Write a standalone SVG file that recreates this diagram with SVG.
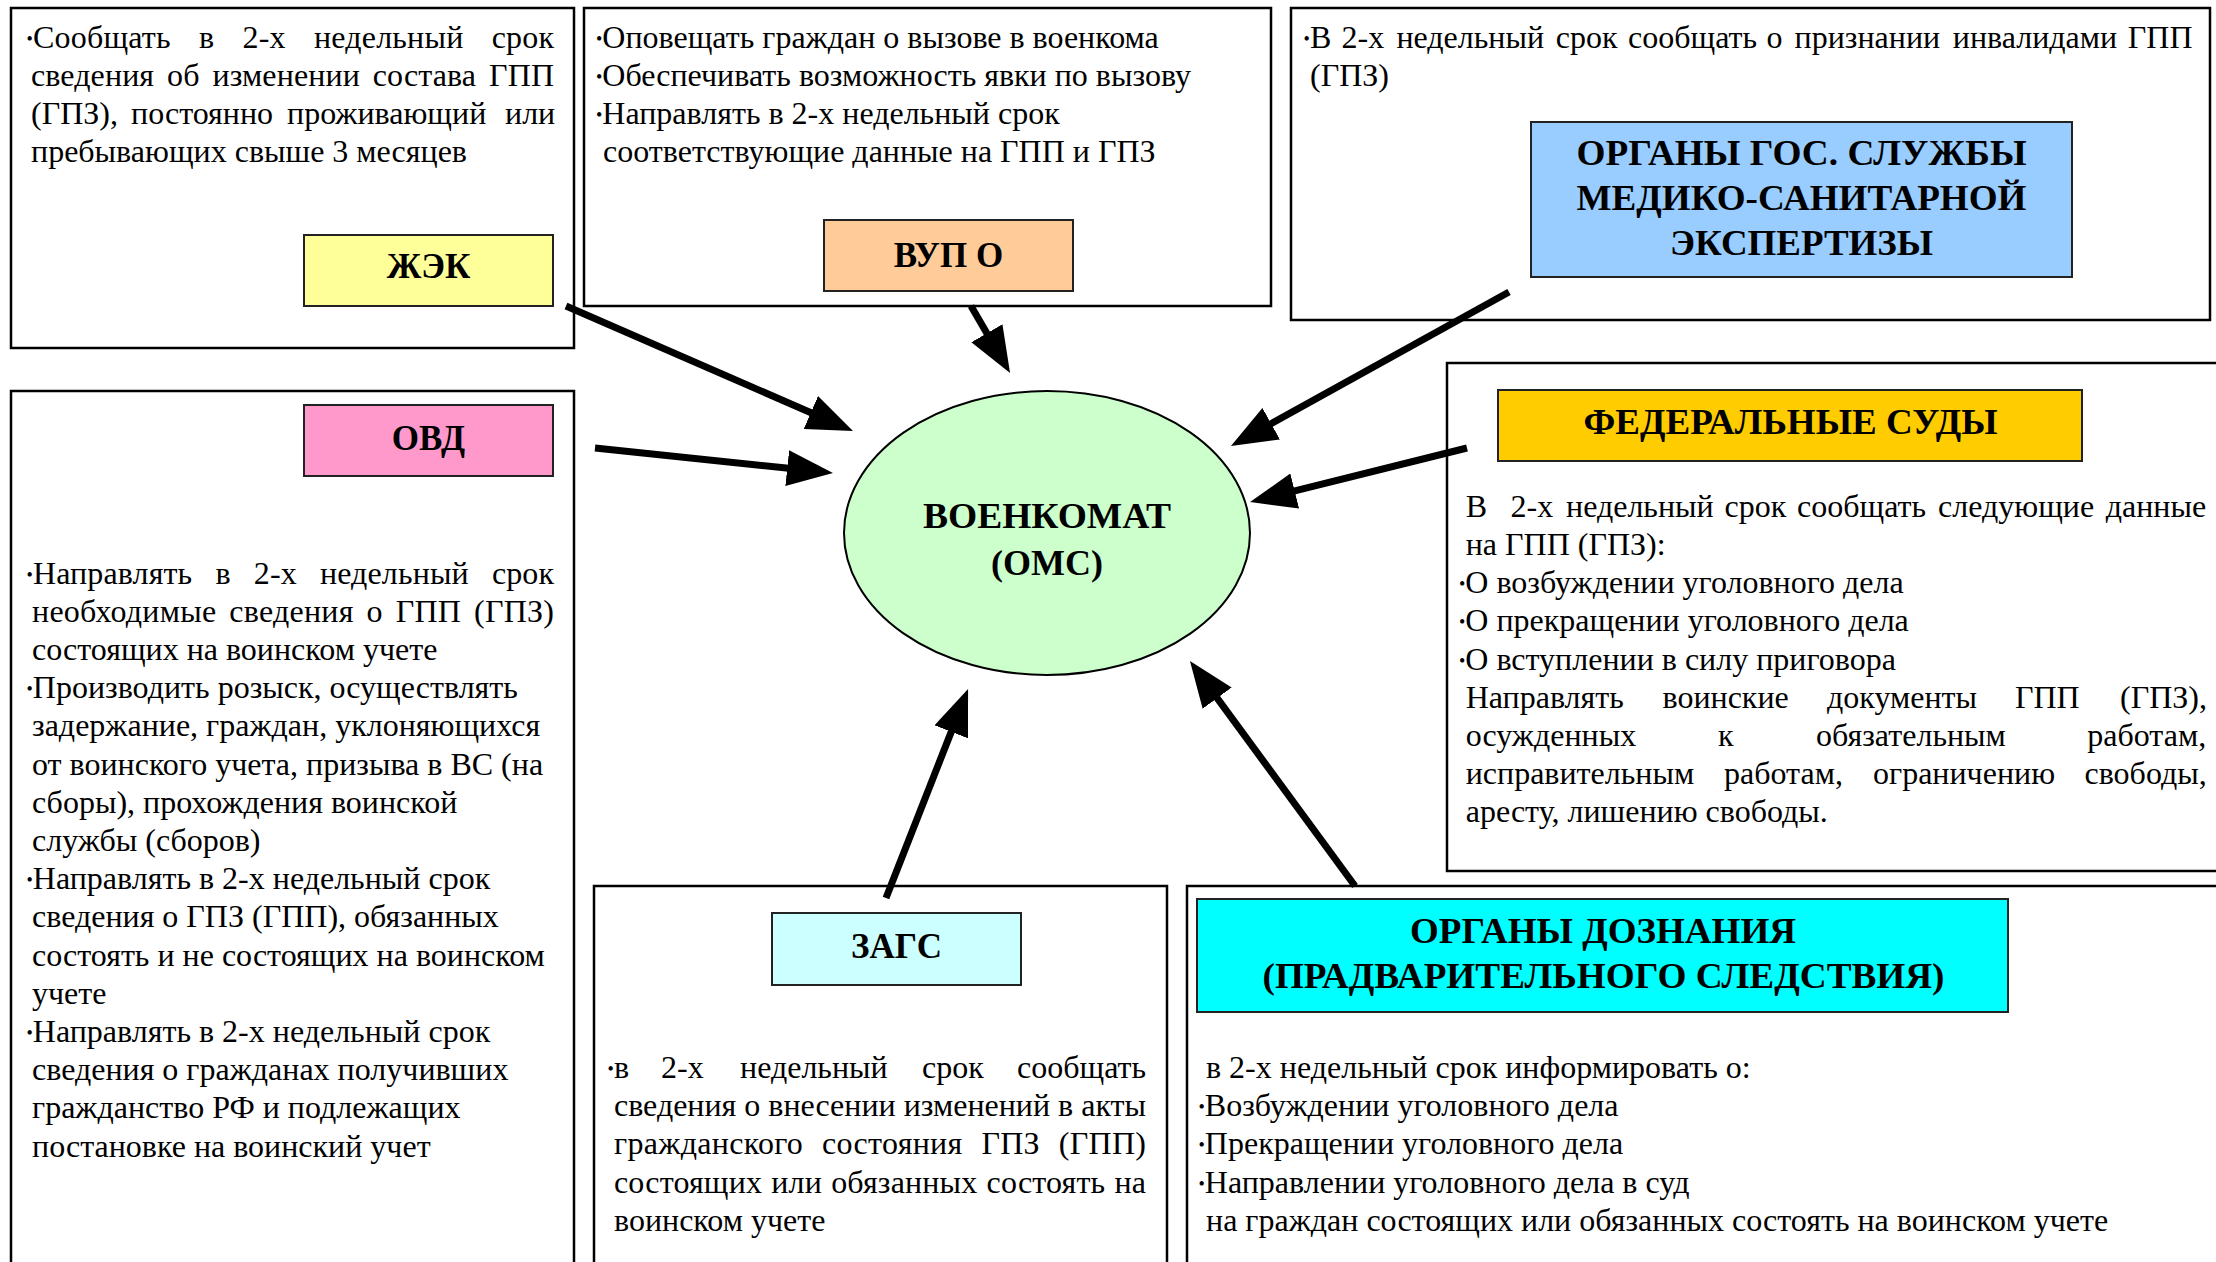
<svg xmlns="http://www.w3.org/2000/svg" width="2216" height="1262" viewBox="0 0 2216 1262">
<style>
.box{fill:#fff;stroke:#000;stroke-width:2.5}
.lbl{stroke:#222;stroke-width:2}
.t{font-family:"Liberation Serif","Times New Roman",serif;font-size:32px;fill:#000}
.h{font-family:"Liberation Serif","Times New Roman",serif;font-size:35px;font-weight:bold;fill:#000;text-anchor:middle}
.b{font-size:18px;baseline-shift:3px}
.conn{stroke:#000;stroke-width:7;fill:none;marker-end:url(#ah)}
</style>
<defs>
<marker id="ah" markerUnits="userSpaceOnUse" markerWidth="46" markerHeight="36" viewBox="0 0 46 36" refX="4" refY="18" orient="auto"><path d="M0,0 L46,18 L0,36 Z" fill="#000"/></marker>
</defs>
<rect width="2216" height="1262" fill="#fff"/>

<g id="zhek">
<rect class="box" x="11" y="8" width="563" height="340"/>
<text class="t" x="26.5" y="48" textLength="527.5" lengthAdjust="spacing" style="word-spacing:20px"><tspan class="b">•</tspan>Сообщать в 2-х недельный срок</text>
<text class="t" x="31" y="86" textLength="523" lengthAdjust="spacing" style="word-spacing:4.8px">сведения об изменении состава ГПП</text>
<text class="t" y="124"><tspan x="31">(ГПЗ),</tspan> <tspan x="131">постоянно</tspan> <tspan x="287">проживающий</tspan> <tspan x="505">или</tspan></text>
<text class="t" x="31" y="162">пребывающих свыше 3 месяцев</text>
<rect class="lbl" x="304" y="235" width="249" height="71" fill="#FFFF99"/>
<text class="h" x="428.5" y="278">ЖЭК</text>
</g>

<g id="vup">
<rect class="box" x="584" y="8" width="687" height="298"/>
<text class="t" y="48"><tspan class="b" x="596">•</tspan>Оповещать граждан о вызове в военкома</text>
<text class="t" y="86"><tspan class="b" x="596">•</tspan>Обеспечивать возможность явки по вызову</text>
<text class="t" y="124"><tspan class="b" x="596">•</tspan>Направлять в 2-х недельный срок</text>
<text class="t" x="603" y="162">соответствующие данные на ГПП и ГПЗ</text>
<rect class="lbl" x="824" y="220" width="249" height="71" fill="#FFCC99"/>
<text class="h" x="948.5" y="267">ВУП О</text>
</g>

<g id="medico">
<rect class="box" x="1291" y="8" width="919" height="312"/>
<text class="t" y="48"><tspan class="b" x="1303.5">•</tspan><tspan x="1310">В</tspan> <tspan x="1341.5">2-х</tspan> <tspan x="1396.4">недельный</tspan> <tspan x="1555.8">срок</tspan> <tspan x="1628">сообщать</tspan> <tspan x="1766.6">о</tspan> <tspan x="1794.6">признании</tspan> <tspan x="1952.8">инвалидами</tspan> <tspan x="2127.8">ГПП</tspan></text>
<text class="t" x="1310" y="86">(ГПЗ)</text>
<rect class="lbl" x="1531" y="122" width="541" height="155" fill="#99CCFF"/>
<text class="h" x="1801.5" y="165" textLength="450" lengthAdjust="spacingAndGlyphs">ОРГАНЫ ГОС. СЛУЖБЫ</text>
<text class="h" x="1801.5" y="210" textLength="450" lengthAdjust="spacingAndGlyphs">МЕДИКО-САНИТАРНОЙ</text>
<text class="h" x="1801.5" y="255" textLength="263" lengthAdjust="spacingAndGlyphs">ЭКСПЕРТИЗЫ</text>
</g>

<g id="ovd">
<rect class="box" x="11" y="391" width="563" height="890"/>
<rect class="lbl" x="304" y="405" width="249" height="71" fill="#FF99CC"/>
<text class="h" x="428.5" y="450">ОВД</text>
<text class="t" x="26.5" y="583.5" textLength="527.5" lengthAdjust="spacing" style="word-spacing:15px"><tspan class="b">•</tspan>Направлять в 2-х недельный срок</text>
<text class="t" x="32" y="621.7" textLength="522" lengthAdjust="spacing" style="word-spacing:4.6px">необходимые сведения о ГПП (ГПЗ)</text>
<text class="t" x="32" y="659.9">состоящих на воинском учете</text>
<text class="t" y="698.1"><tspan class="b" x="26.5">•</tspan>Производить розыск, осуществлять</text>
<text class="t" x="32" y="736.3">задержание, граждан, уклоняющихся</text>
<text class="t" x="32" y="774.5">от воинского учета, призыва в ВС (на</text>
<text class="t" x="32" y="812.7">сборы), прохождения воинской</text>
<text class="t" x="32" y="850.9">службы (сборов)</text>
<text class="t" y="889.1"><tspan class="b" x="26.5">•</tspan>Направлять в 2-х недельный срок</text>
<text class="t" x="32" y="927.3">сведения о ГПЗ (ГПП), обязанных</text>
<text class="t" x="32" y="965.5">состоять и не состоящих на воинском</text>
<text class="t" x="32" y="1003.7">учете</text>
<text class="t" y="1041.9"><tspan class="b" x="26.5">•</tspan>Направлять в 2-х недельный срок</text>
<text class="t" x="32" y="1080.1">сведения о гражданах получивших</text>
<text class="t" x="32" y="1118.3">гражданство РФ и подлежащих</text>
<text class="t" x="32" y="1156.5">постановке на воинский учет</text>
</g>

<g id="fedsud">
<rect class="box" x="1447" y="363" width="785" height="508"/>
<rect class="lbl" x="1498" y="390" width="584" height="71" fill="#FFCC00"/>
<text class="h" x="1790.5" y="434" textLength="414" lengthAdjust="spacingAndGlyphs">ФЕДЕРАЛЬНЫЕ СУДЫ</text>
<text class="t" y="516.7"><tspan x="1465.7">В</tspan> <tspan x="1510.5">2-х</tspan> <tspan x="1566">недельный</tspan> <tspan x="1724.5">срок</tspan> <tspan x="1797">сообщать</tspan> <tspan x="1938">следующие</tspan> <tspan x="2105.7">данные</tspan></text>
<text class="t" x="1465.7" y="554.9">на ГПП (ГПЗ):</text>
<text class="t" y="593.1"><tspan class="b" x="1459">•</tspan>О возбуждении уголовного дела</text>
<text class="t" y="631.3"><tspan class="b" x="1459">•</tspan>О прекращении уголовного дела</text>
<text class="t" y="669.5"><tspan class="b" x="1459">•</tspan>О вступлении в силу приговора</text>
<text class="t" y="707.7"><tspan x="1465.7">Направлять</tspan> <tspan x="1662.5">воинские</tspan> <tspan x="1827">документы</tspan> <tspan x="2015">ГПП</tspan> <tspan x="2120">(ГПЗ),</tspan></text>
<text class="t" y="745.9"><tspan x="1465.7">осужденных</tspan> <tspan x="1718">к</tspan> <tspan x="1816">обязательным</tspan> <tspan x="2087.3">работам,</tspan></text>
<text class="t" y="784.1"><tspan x="1465.7">исправительным</tspan> <tspan x="1724">работам,</tspan> <tspan x="1873">ограничению</tspan> <tspan x="2084.5">свободы,</tspan></text>
<text class="t" x="1465.7" y="822.3">аресту, лишению свободы.</text>
</g>

<g id="zags">
<rect class="box" x="594" y="886" width="573" height="395"/>
<rect class="lbl" x="772" y="913" width="249" height="72" fill="#CCFFFF"/>
<text class="h" x="896.5" y="958">ЗАГС</text>
<text class="t" y="1078"><tspan class="b" x="607.5">•</tspan><tspan x="614">в</tspan> <tspan x="661">2-х</tspan> <tspan x="740">недельный</tspan> <tspan x="922">срок</tspan> <tspan x="1017">сообщать</tspan></text>
<text class="t" x="614" y="1116.2" textLength="532" lengthAdjust="spacing">сведения о внесении изменений в акты</text>
<text class="t" x="614" y="1154.4" textLength="532" lengthAdjust="spacing" style="word-spacing:10.5px">гражданского состояния ГПЗ (ГПП)</text>
<text class="t" x="614" y="1192.6" textLength="532" lengthAdjust="spacing" style="word-spacing:1px">состоящих или обязанных состоять на</text>
<text class="t" x="614" y="1230.8">воинском учете</text>
</g>

<g id="doznanie">
<rect class="box" x="1187" y="886" width="1045" height="395"/>
<rect class="lbl" x="1197" y="899" width="811" height="113" fill="#00FFFF"/>
<text class="h" x="1603" y="943" textLength="386" lengthAdjust="spacingAndGlyphs">ОРГАНЫ ДОЗНАНИЯ</text>
<text class="h" x="1603.5" y="988" textLength="682" lengthAdjust="spacingAndGlyphs">(ПРАДВАРИТЕЛЬНОГО СЛЕДСТВИЯ)</text>
<text class="t" x="1206" y="1078">в 2-х недельный срок информировать о:</text>
<text class="t" y="1116.2"><tspan class="b" x="1198.5">•</tspan>Возбуждении уголовного дела</text>
<text class="t" y="1154.4"><tspan class="b" x="1198.5">•</tspan>Прекращении уголовного дела</text>
<text class="t" y="1192.6"><tspan class="b" x="1198.5">•</tspan>Направлении уголовного дела в суд</text>
<text class="t" x="1206" y="1230.8">на граждан состоящих или обязанных состоять на воинском учете</text>
</g>

<g id="voenkomat">
<ellipse cx="1047" cy="533" rx="203" ry="142" fill="#CCFFCC" stroke="#000" stroke-width="2"/>
<text class="h" x="1047" y="528" style="font-size:36px" textLength="248" lengthAdjust="spacingAndGlyphs">ВОЕНКОМАТ</text>
<text class="h" x="1047" y="574.5" style="font-size:36px">(ОМС)</text>
</g>

<g id="connectors">
<line class="conn" x1="566" y1="306" x2="814.5" y2="414.2"/>
<line class="conn" x1="971" y1="306" x2="988.9" y2="336.7"/>
<line class="conn" x1="595" y1="448" x2="791.2" y2="468.6"/>
<line class="conn" x1="1509" y1="292" x2="1267.7" y2="425.6"/>
<line class="conn" x1="1467" y1="448" x2="1290.8" y2="491.9"/>
<line class="conn" x1="886" y1="898" x2="952.7" y2="728.1"/>
<line class="conn" x1="1355" y1="886" x2="1214.8" y2="694.9"/>
</g>
</svg>
